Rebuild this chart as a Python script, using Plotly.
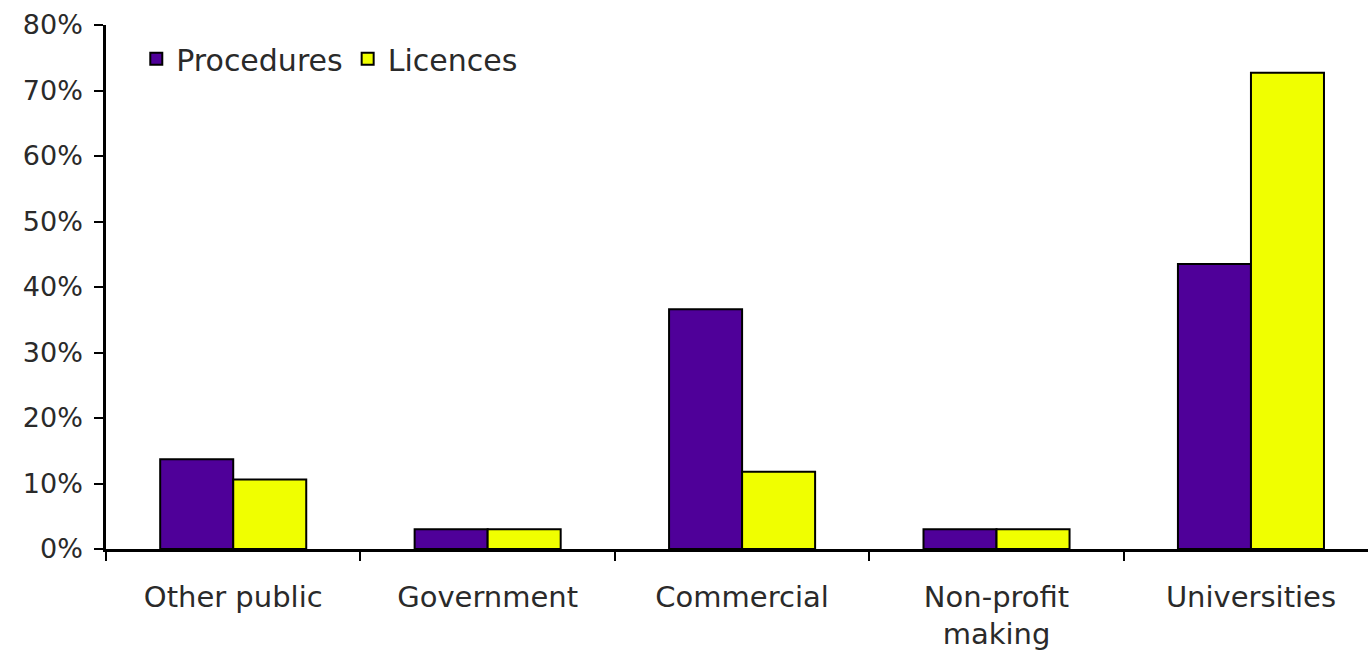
import plotly.graph_objects as go

categories = ["Other public", "Government", "Commercial", "Non-profit<br>making", "Universities"]
procedures = [13.7, 3.0, 36.6, 3.0, 43.5]
licences = [10.6, 3.0, 11.8, 3.0, 72.7]
y_ticks = [0, 10, 20, 30, 40, 50, 60, 70, 80]
y_tick_labels = [f"{v}%" for v in y_ticks]

font_family = "DejaVu Sans"

fig = go.Figure()
fig.add_trace(go.Bar(
    name="Procedures", x=categories, y=procedures,
    marker=dict(color="#4F0099", line=dict(color="black", width=2)),
))
fig.add_trace(go.Bar(
    name="Licences", x=categories, y=licences,
    marker=dict(color="#F0FF00", line=dict(color="black", width=2)),
))

fig.update_layout(
    width=1368, height=658,
    margin=dict(l=106, r=0, t=25, b=109),
    paper_bgcolor="white", plot_bgcolor="white",
    barmode="group", bargap=0.426, bargroupgap=0,
    font=dict(family=font_family, color="#2a2a2a", size=28),
    showlegend=True,
    legend=dict(
        orientation="h", x=0.024, y=0.985, xanchor="left", yanchor="top",
        font=dict(size=30, family=font_family, color="#2a2a2a"),
        bgcolor="rgba(0,0,0,0)", itemwidth=30, tracegroupgap=0,
    ),
    xaxis=dict(
        type="category", range=[-0.5, 4.46],
        showline=True, linecolor="black", linewidth=2.5,
        ticks="outside", tickson="boundaries", ticklen=9, tickwidth=2, tickcolor="black",
        tickfont=dict(size=29), showgrid=False, zeroline=False,
        ticklabelstandoff=20,
    ),
    yaxis=dict(
        range=[0, 80], tickvals=y_ticks, ticktext=y_tick_labels,
        showline=True, linecolor="black", linewidth=2.5,
        ticks="outside", ticklen=9, tickwidth=2, tickcolor="black",
        tickfont=dict(size=27), showgrid=False, zeroline=False,
        ticklabelstandoff=6,
    ),
)

fig.write_html("out.html")
